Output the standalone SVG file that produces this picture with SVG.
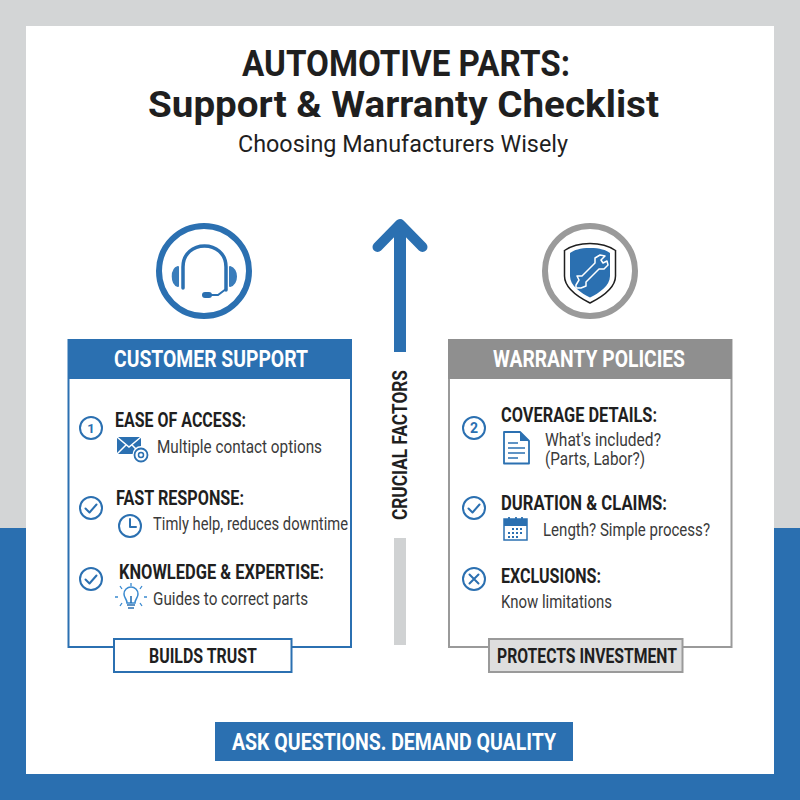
<svg xmlns="http://www.w3.org/2000/svg" width="800" height="800" viewBox="0 0 800 800">
<style>
text{font-family:"Roboto","Liberation Sans",sans-serif;fill:#1f1f1f}
.h{font-weight:700;font-size:20.500px}
.b{font-size:18.500px;fill:#3a3a3a}
.hd{font-weight:700;font-size:24px;fill:#fff}
.bl{fill:none;stroke:#2b70b1;stroke-width:2;stroke-linecap:round;stroke-linejoin:round}
.fb{fill:#2b70b1}
</style>
<defs>
<g id="chk"><circle r="11" class="bl"/><path d="M-5.500 0.500L-1.500 4.500L5.500-3.500" class="bl" stroke-width="2.600"/></g>
</defs>
<rect width="800" height="528" fill="#d3d5d6"/>
<rect y="528" width="800" height="272" fill="#2a6fb0"/>
<rect x="26" y="26" width="748" height="748" fill="#fff"/>
<g id="title">
<text x="406" y="76" text-anchor="middle" font-size="36" font-weight="700" textLength="328" lengthAdjust="spacingAndGlyphs">AUTOMOTIVE PARTS:</text>
<text x="403.500" y="117" text-anchor="middle" font-size="36" font-weight="700" textLength="511" lengthAdjust="spacingAndGlyphs">Support &amp; Warranty Checklist</text>
<text x="403" y="152" text-anchor="middle" font-size="24" textLength="330" lengthAdjust="spacingAndGlyphs" fill="#333">Choosing Manufacturers Wisely</text>
</g>
<g id="connectors">
<path d="M400 352V228" fill="none" stroke="#2b70b1" stroke-width="12"/>
<path d="M377.500 247L400 224L422.500 247" fill="none" stroke="#2b70b1" stroke-width="10" stroke-linecap="round" stroke-linejoin="round"/>
<rect x="394" y="538" width="12" height="107" fill="#d0d2d3"/>
<text transform="translate(407 520) rotate(-90)" font-size="20.500" font-weight="700" textLength="150" lengthAdjust="spacingAndGlyphs">CRUCIAL FACTORS</text>
</g>
<g id="icon-support">
<circle cx="204" cy="271" r="45" fill="none" stroke="#2b70b1" stroke-width="6"/>
<path d="M183 286V265C183 237 226 237 226 265V288" fill="none" stroke="#2b70b1" stroke-width="3.500" stroke-linecap="round" transform="translate(0 2)"/>
<path d="M178 267C171 269 171 284 178 286Z" fill="#3a7dbb" stroke="#3a7dbb" stroke-width="2" stroke-linejoin="round"/>
<path d="M230 267C238 269 238 284 230 286Z" fill="#3a7dbb" stroke="#3a7dbb" stroke-width="2" stroke-linejoin="round"/>
<path d="M226 289L218 295H208" fill="none" stroke="#2b70b1" stroke-width="2"/>
<rect x="202" y="292" width="10" height="6" rx="3" class="fb"/>
</g>
<g id="icon-warranty">
<circle cx="590" cy="271" r="45" fill="none" stroke="#9a9a9a" stroke-width="6"/>
<path d="M590 243.500C579 243.500 571 246 564.500 250.500V276C564.500 288 578 297 590 303C602 297 615.500 288 615.500 276V250.500C609 246 601 243.500 590 243.500Z" fill="#fff" stroke="#1f1f1f" stroke-width="1.500"/>
<path d="M590 248C580 248 574 250 570 253V276C570 286 581 293 590 297.500C599 293 610 286 610 276V253C606 250 600 248 590 248Z" class="fb"/>
<path d="M576 285L579 280L577 276L582 276L595 263L595 258L600 255L605 256L601 260L603 263L607 261L608 265L604 269L599 269L586 282L586 286L581 288L576 288Z" fill="none" stroke="#fff" stroke-width="1.500" stroke-linejoin="round"/>
</g>
<g id="customer-support">
<rect x="68.500" y="340" width="282.500" height="307" fill="#fff" stroke="#2b70b1" stroke-width="2"/>
<rect x="68" y="339" width="284" height="40" class="fb"/>
<text x="211" y="367" text-anchor="middle" class="hd" textLength="194" lengthAdjust="spacingAndGlyphs">CUSTOMER SUPPORT</text>
<g id="ease-of-access">
<circle cx="91" cy="428" r="11" class="bl"/>
<text x="91" y="433" text-anchor="middle" font-size="13" font-weight="700" style="fill:#2b70b1">1</text>
<text x="115" y="427" class="h" textLength="131" lengthAdjust="spacingAndGlyphs">EASE OF ACCESS:</text>
<path d="M117 437H141V454H117Z" class="fb"/>
<path d="M117 437L129 447L141 437M117 454L126 445M141 454L132 445" fill="none" stroke="#fff" stroke-width="1.500"/>
<circle cx="141" cy="454.500" r="8.500" fill="#fff"/>
<circle cx="141" cy="455" r="6.500" fill="none" stroke="#2b70b1" stroke-width="1.800"/>
<circle cx="141" cy="455" r="2.500" fill="none" stroke="#2b70b1" stroke-width="1.500"/>
<text x="157" y="453" class="b" textLength="165" lengthAdjust="spacingAndGlyphs">Multiple contact options</text>
</g>
<g id="fast-response">
<use href="#chk" x="91" y="508"/>
<text x="116" y="505" class="h" textLength="128" lengthAdjust="spacingAndGlyphs">FAST RESPONSE:</text>
<circle cx="130" cy="526" r="11" class="bl"/>
<path d="M130 519V527H136" class="bl"/>
<text x="153" y="530" class="b" textLength="195" lengthAdjust="spacingAndGlyphs">Timly help, reduces downtime</text>
</g>
<g id="knowledge">
<use href="#chk" x="91" y="579"/>
<text x="119" y="579" class="h" textLength="205" lengthAdjust="spacingAndGlyphs">KNOWLEDGE &amp; EXPERTISE:</text>
<path d="M127 603C127 599 124 598 124 594A7 7 0 0 1 138 594C138 598 135 599 135 603Z" fill="#fff" stroke="#3a8ad0" stroke-width="1.500"/>
<path d="M127 605H135M128 608H134M131 603V596" stroke="#2b70b1" stroke-width="1.600" fill="none"/>
<path d="M131 583V586M120 586L122 589M142 586L140 589M118 597H115M144 597H147M122 603L120 606M140 603L142 606" stroke="#3a8ad0" stroke-width="1.300" fill="none"/>
<text x="153" y="605" class="b" textLength="155" lengthAdjust="spacingAndGlyphs">Guides to correct parts</text>
</g>
<g id="builds-trust">
<rect x="114" y="639" width="177.500" height="33" fill="#fff" stroke="#2b70b1" stroke-width="2"/>
<text x="203" y="663" text-anchor="middle" class="h" textLength="108" lengthAdjust="spacingAndGlyphs">BUILDS TRUST</text>
</g>
</g>
<g id="warranty-policies">
<rect x="449" y="340" width="282.500" height="307" fill="#fff" stroke="#9a9a9a" stroke-width="2"/>
<rect x="448" y="339" width="284" height="40" fill="#8f8f8f"/>
<text x="589" y="367" text-anchor="middle" class="hd" textLength="192" lengthAdjust="spacingAndGlyphs">WARRANTY POLICIES</text>
<g id="coverage-details">
<circle cx="474" cy="428" r="11" class="bl"/>
<text x="474" y="433" text-anchor="middle" font-size="14" font-weight="700" style="fill:#2b70b1">2</text>
<text x="501" y="422" class="h" textLength="156" lengthAdjust="spacingAndGlyphs">COVERAGE DETAILS:</text>
<path d="M504 432H520L529 441V463.500H504Z" fill="#fff" stroke="#2b70b1" stroke-width="1.800" stroke-linejoin="round"/>
<path d="M520 432V441H529Z" class="fb"/>
<path d="M508 443H518M508 448H525M508 453H525M508 458H518" stroke="#2b70b1" stroke-width="1.500" fill="none"/>
<text x="545" y="446" class="b" textLength="116" lengthAdjust="spacingAndGlyphs">What's included?</text>
<text x="545" y="465" class="b" textLength="100" lengthAdjust="spacingAndGlyphs">(Parts, Labor?)</text>
</g>
<g id="duration-claims">
<use href="#chk" x="474" y="508"/>
<text x="501" y="510" class="h" textLength="166" lengthAdjust="spacingAndGlyphs">DURATION &amp; CLAIMS:</text>
<rect x="504" y="519" width="23" height="21" fill="#fff" stroke="#2b70b1" stroke-width="1.500"/>
<rect x="504" y="519" width="23" height="7" class="fb"/>
<path d="M509 517V521M516 517V521M522 517V521" stroke="#2b70b1" stroke-width="1.800"/>
<path d="M508 533h2M512 533h2M516 533h2M520 533h2M512 529h2M516 529h2M520 529h2M508 537h2M512 537h2M516 537h2" stroke="#2b70b1" stroke-width="2.200"/>
<text x="543" y="536" class="b" textLength="167" lengthAdjust="spacingAndGlyphs">Length? Simple process?</text>
</g>
<g id="exclusions">
<circle cx="474" cy="579" r="11" class="bl"/>
<path d="M469.500 574.500L478.500 583.500M478.500 574.500L469.500 583.500" class="bl" stroke-width="2.400"/>
<text x="501" y="583" class="h" textLength="100" lengthAdjust="spacingAndGlyphs">EXCLUSIONS:</text>
<text x="501" y="608" class="b" textLength="111" lengthAdjust="spacingAndGlyphs">Know limitations</text>
</g>
<g id="protects-investment">
<rect x="489" y="639" width="193.500" height="33" fill="#dedede" stroke="#9a9a9a" stroke-width="2"/>
<text x="587" y="663" text-anchor="middle" class="h" textLength="180" lengthAdjust="spacingAndGlyphs">PROTECTS INVESTMENT</text>
</g>
</g>
<g id="footer">
<rect x="215" y="722" width="358" height="39" class="fb"/>
<text x="394" y="750" text-anchor="middle" font-size="24" font-weight="700" textLength="324" lengthAdjust="spacingAndGlyphs" style="fill:#fff">ASK QUESTIONS. DEMAND QUALITY</text>
</g>
</svg>
